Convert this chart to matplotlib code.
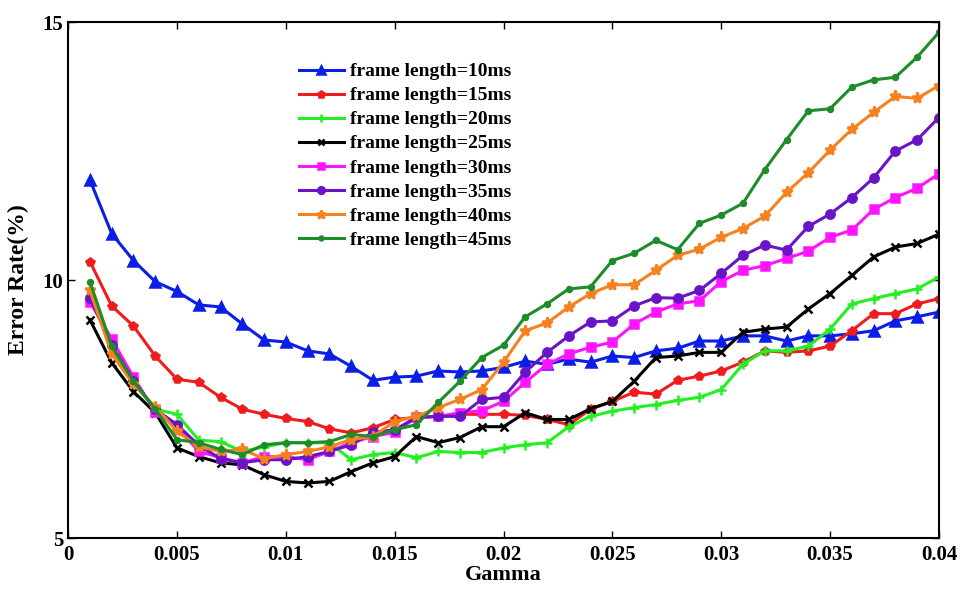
import matplotlib
matplotlib.use("Agg")
import matplotlib.pyplot as plt

# gamma values (x axis)
gamma = [0.001, 0.002, 0.003, 0.004, 0.005, 0.006, 0.007, 0.008, 0.009, 0.010,
         0.011, 0.012, 0.013, 0.014, 0.015, 0.016, 0.017, 0.018, 0.019, 0.020,
         0.021, 0.022, 0.023, 0.024, 0.025, 0.026, 0.027, 0.028, 0.029, 0.030,
         0.031, 0.032, 0.033, 0.034, 0.035, 0.036, 0.037, 0.038, 0.039, 0.040]

# error rate (%) per frame length
fl10 = [11.94, 10.9, 10.38, 9.97, 9.78, 9.52, 9.48, 9.15, 8.84, 8.8,
        8.63, 8.57, 8.33, 8.06, 8.12, 8.14, 8.24, 8.22, 8.24, 8.31,
        8.43, 8.37, 8.47, 8.41, 8.53, 8.5, 8.63, 8.68, 8.82, 8.82,
        8.92, 8.92, 8.82, 8.92, 8.92, 8.96, 9.02, 9.21, 9.29, 9.38]
fl15 = [10.36, 9.5, 9.11, 8.53, 8.08, 8.02, 7.73, 7.5, 7.4, 7.32,
        7.26, 7.12, 7.04, 7.14, 7.3, 7.34, 7.36, 7.4, 7.4, 7.4,
        7.38, 7.3, 7.2, 7.5, 7.65, 7.83, 7.79, 8.06, 8.14, 8.24,
        8.41, 8.63, 8.6, 8.63, 8.72, 9.02, 9.35, 9.35, 9.54, 9.64]
fl20 = [9.7, 8.7, 8.0, 7.5, 7.4, 6.9, 6.87, 6.68, 6.77, 6.85,
        6.85, 6.85, 6.52, 6.62, 6.66, 6.56, 6.68, 6.66, 6.66, 6.75,
        6.81, 6.85, 7.16, 7.36, 7.46, 7.53, 7.59, 7.67, 7.73, 7.88,
        8.37, 8.63, 8.63, 8.72, 9.05, 9.54, 9.64, 9.74, 9.83, 10.06]
fl25 = [9.23, 8.4, 7.84, 7.43, 6.75, 6.58, 6.46, 6.42, 6.23, 6.1,
        6.07, 6.1, 6.29, 6.46, 6.58, 6.97, 6.85, 6.95, 7.16, 7.16,
        7.43, 7.3, 7.3, 7.51, 7.65, 8.04, 8.5, 8.53, 8.6, 8.6,
        8.99, 9.05, 9.09, 9.44, 9.74, 10.09, 10.45, 10.64, 10.71, 10.89]
fl30 = [9.58, 8.86, 8.12, 7.45, 7.16, 6.68, 6.56, 6.46, 6.58, 6.58,
        6.52, 6.68, 6.85, 6.97, 7.05, 7.34, 7.36, 7.43, 7.47, 7.65,
        8.02, 8.37, 8.57, 8.7, 8.8, 9.15, 9.38, 9.54, 9.6, 9.97,
        10.19, 10.28, 10.42, 10.56, 10.83, 10.97, 11.37, 11.6, 11.78, 12.06]
fl35 = [9.65, 8.75, 8.05, 7.5, 7.2, 6.8, 6.54, 6.46, 6.52, 6.52,
        6.58, 6.68, 6.81, 7.05, 7.1, 7.34, 7.36, 7.36, 7.69, 7.73,
        8.22, 8.6, 8.92, 9.19, 9.21, 9.5, 9.66, 9.65, 9.8, 10.13,
        10.48, 10.68, 10.58, 11.04, 11.28, 11.6, 11.98, 12.5, 12.72, 13.15]
fl40 = [9.8, 8.57, 7.98, 7.55, 7.07, 6.77, 6.68, 6.72, 6.54, 6.62,
        6.68, 6.77, 6.91, 6.97, 7.26, 7.36, 7.53, 7.69, 7.88, 8.41,
        9.02, 9.17, 9.48, 9.74, 9.91, 9.91, 10.19, 10.48, 10.6, 10.83,
        11.0, 11.24, 11.7, 12.08, 12.52, 12.92, 13.25, 13.56, 13.52, 13.77]
fl45 = [9.97, 8.72, 8.04, 7.5, 6.91, 6.85, 6.72, 6.62, 6.81, 6.85,
        6.85, 6.87, 7.01, 6.97, 7.1, 7.2, 7.63, 8.04, 8.5, 8.74,
        9.29, 9.54, 9.83, 9.87, 10.38, 10.52, 10.77, 10.59, 11.1, 11.26,
        11.49, 12.14, 12.72, 13.28, 13.32, 13.74, 13.88, 13.93, 14.32, 14.8]

labels = ["frame length=10ms", "frame length=15ms", "frame length=20ms",
          "frame length=25ms", "frame length=30ms", "frame length=35ms",
          "frame length=40ms", "frame length=45ms"]
series = [fl10, fl15, fl20, fl25, fl30, fl35, fl40, fl45]
colors = ["#0a1ee6", "#ee1c1c", "#22f022", "#000000",
          "#ff14ff", "#6a14c8", "#f5821e", "#1e8c28"]
markers = ["^", "p", "+", "x", "s", "o", "*", "."]
msizes = [7, 6, 7, 6, 6, 6, 8, 7]

plt.rcParams["font.family"] = "Liberation Serif"
plt.rcParams["font.weight"] = "bold"

fig = plt.figure(figsize=(9.6, 5.96), dpi=100)
ax = fig.add_axes([0.071, 0.097, 0.907, 0.866])

for ys, lab, c, m, s in zip(series, labels, colors, markers, msizes):
    ax.plot(gamma, ys, color=c, marker=m, markersize=s, linewidth=2.2,
            markeredgewidth=1.8, label=lab)

ax.set_xlim(0, 0.04)
ax.set_ylim(5, 15)
ax.set_xticks([0, 0.005, 0.01, 0.015, 0.02, 0.025, 0.03, 0.035, 0.04])
ax.set_xticklabels(["0", "0.005", "0.01", "0.015", "0.02", "0.025", "0.03", "0.035", "0.04"])
ax.set_yticks([5, 10, 15])
ax.tick_params(direction="in", top=True, right=True, labelsize=15, length=5, width=1)
ax.tick_params(axis="x", pad=5)
for sp in ax.spines.values():
    sp.set_linewidth(1.5)

ax.set_xlabel("Gamma", fontsize=16, fontweight="bold", labelpad=0)
ax.set_ylabel("Error Rate(%)", fontsize=17, fontweight="bold", labelpad=10)

ax.legend(loc="upper left", bbox_to_anchor=(0.245, 0.955), frameon=False,
          handlelength=2.3, labelspacing=0.33, handletextpad=0.3, markerscale=0.8,
          prop={"weight": "bold", "size": 14})

plt.savefig("out.png", dpi=100)
